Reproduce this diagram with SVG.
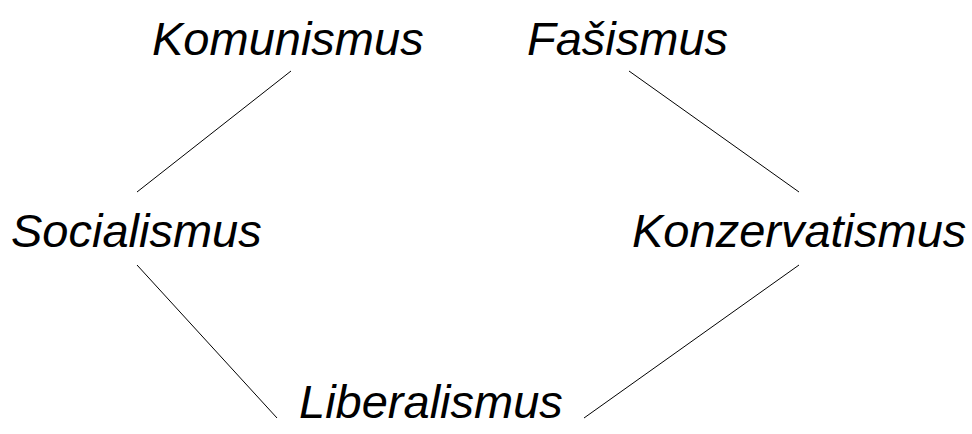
<svg xmlns="http://www.w3.org/2000/svg" width="972" height="434" viewBox="0 0 972 434">
<style>
.t{font-family:"Liberation Sans",Arial,sans-serif;font-style:italic;font-size:47px;fill:#000}
.c line{stroke:#000;stroke-width:1}
</style>
<rect width="972" height="434" fill="#fff"/>
<g class="c" id="connectors">
<line x1="291" y1="71" x2="137" y2="192"/>
<line x1="629" y1="71" x2="799" y2="192"/>
<line x1="137" y1="265" x2="277" y2="418"/>
<line x1="799" y1="265" x2="584" y2="418"/>
</g>
<g id="komunismus"><text class="t" x="152" y="55">Komunismus</text></g>
<g id="fasismus"><text class="t" x="527" y="55">Fašismus</text></g>
<g id="socialismus"><text class="t" x="11" y="247">Socialismus</text></g>
<g id="konzervatismus"><text class="t" x="632" y="247">Konzervatismus</text></g>
<g id="liberalismus"><text class="t" x="299" y="418">Liberalismus</text></g>
</svg>
